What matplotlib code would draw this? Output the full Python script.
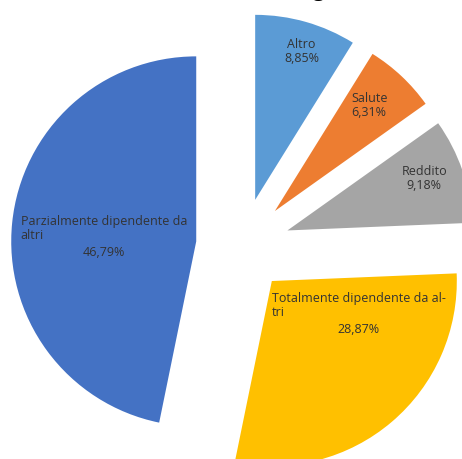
import matplotlib
matplotlib.use("Agg")
import matplotlib.pyplot as plt

categories = ["Altro", "Salute", "Reddito",
              "Totalmente dipendente da al-\ntri",
              "Parzialmente dipendente da\naltri"]
values = [8.85, 6.31, 9.18, 28.87, 46.79]
pct_labels = ["8,85%", "6,31%", "9,18%", "28,87%", "46,79%"]
colors = ["#5B9BD5", "#ED7D31", "#A5A5A5", "#FFC000", "#4472C4"]

# layout (pixel units, axes fill the whole figure)
W, H = 462, 459
CENTER = (242, 213)
RADIUS = 185
explode = [48, 48, 48, 46, 46]
# label offsets from each wedge's own centre, in fractions of the radius
label_off = [(0.25, 0.80), (0.51, 0.57), (0.74, 0.28), (0.47, -0.13), (-0.50, 0.07)]

fig = plt.figure(figsize=(W / 100, H / 100), dpi=100)
ax = fig.add_axes([0, 0, 1, 1])

wedges, _ = ax.pie(values, colors=colors, startangle=90, counterclock=False,
                   explode=explode, center=CENTER, radius=RADIUS,
                   wedgeprops=dict(linewidth=0), frame=True)
ax.set_xlim(0, W)
ax.set_ylim(0, H)
ax.set_aspect("equal")
ax.axis("off")

txt = dict(fontfamily="Open Sans", fontsize=9, color="#333333")
for i, w in enumerate(wedges):
    cx, cy = w.center
    x = cx + label_off[i][0] * RADIUS
    y = cy + label_off[i][1] * RADIUS
    if i < 3:
        ax.text(x, y, categories[i] + "\n" + pct_labels[i], ha="center",
                va="center", linespacing=1.1, **txt)
    else:
        ax.text(x, y, categories[i], ha="center", va="center",
                multialignment="left", linespacing=1.1, **txt)
        ax.text(x, y - 24, pct_labels[i], ha="center", va="center", **txt)

# title, mostly cut off by the top edge
ax.text(318, H + 4, "g", ha="center", va="baseline", fontsize=16,
        fontweight="bold", fontfamily="Liberation Serif", clip_on=False)

fig.savefig("out.png", dpi=100)
